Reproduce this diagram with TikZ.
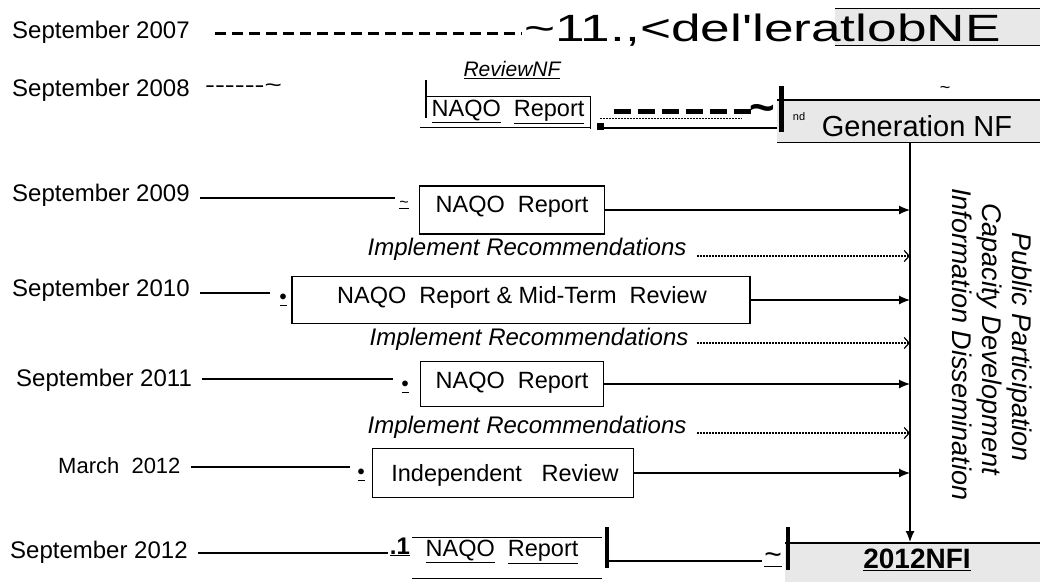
\documentclass[tikz,border=0pt]{standalone}
\usepackage{fontspec}
\setmainfont{Liberation Sans}
\usetikzlibrary{arrows.meta}
\tikzset{
  lab/.style={font=\fontsize{24}{26}\selectfont, inner sep=0pt},
  boxtxt/.style={font=\fontsize{23.5}{26}\selectfont, inner sep=0pt},
  imp/.style={font=\fontsize{24}{26}\selectfont\itshape, inner sep=0pt},
  rowbox/.style={draw, line width=1.3pt, inner sep=0pt},
  conn/.style={line width=1.2pt},
  solidarr/.style={conn, -{Latex[length=11pt,width=9pt]}},
  dotarr/.style={line width=1.2pt, dash pattern=on 1.5pt off 1.5pt, -{Straight Barb[length=5pt,width=11pt]}},
  thick bar/.style={line width=4.5pt},
  greyfill/.style={fill=gray!18, draw=none},
  rot/.style={font=\fontsize{27}{28}\selectfont\itshape, rotate=-90, anchor=base west, inner sep=0pt},
}
\begin{document}
\begin{tikzpicture}[x=1pt,y=-1pt]
\useasboundingbox (0,0) rectangle (1040,582);
\fill[white] (0,0) rectangle (1040,582);

% ---------- row 2007 ----------
\node[lab, anchor=west] (l07) at (12,32) {September 2007};
\coordinate (d07a) at (215,33);
\coordinate (d07b) at (522,33);
\draw[line width=3pt, dash pattern=on 11pt off 6pt] (d07a) -- (d07b);
\node[greyfill, minimum width=205pt, minimum height=37pt, anchor=north west] (g07) at (835,8) {};
\draw[line width=1pt] (g07.north west) -- (g07.north east);
\draw[line width=1pt] (g07.south west) -- (g07.south east);
\node[anchor=west, inner sep=0pt, font=\fontsize{38}{40}\selectfont] (t07) at (524,30)
  {\scalebox{1.40}[1]{\textasciitilde 11.,<del\textquotesingle leratlobNE}};

% ---------- row 2008 ----------
\node[lab, anchor=west] (l08) at (12,90) {September 2008};
\node[anchor=west, inner sep=0pt, font=\fontsize{22}{22}\selectfont] (d08) at (205,88) {\scalebox{1.35}[1]{-{}-{}-{}-{}-{}-\textasciitilde}};
\node[inner sep=0pt, font=\fontsize{21}{22}\selectfont\itshape] (rev) at (512,70) {\underline{ReviewNF}};
\node[inner sep=0pt, minimum width=164pt, minimum height=30pt] (b08) at (508,112) {};
\node[boxtxt] (b08t) at (b08.center) {\underline{NAQO}\ \ \underline{Report}};
\draw[line width=2.2pt] ([yshift=17pt]b08.north west) -- ([yshift=9pt]b08.south west);
\draw[line width=1.2pt] (b08.north west) -- (b08.north east) -- ([yshift=-2pt]b08.south east);
\draw[line width=1.2pt] ([xshift=-6pt]b08.south west) -- (b08.south east);
\coordinate (dd08a) at (614,111);
\coordinate (dd08b) at (752,111);
\draw[line width=5pt, dash pattern=on 17pt off 7pt] (dd08a) -- (dd08b);
\draw[line width=0.6pt, dash pattern=on 2pt off 1pt] ([xshift=-14pt]dd08a |- 0,118) -- ([xshift=-10pt]dd08b |- 0,118);
\coordinate (s08a) at (597,128);
\coordinate (s08b) at (778,128);
\draw[conn] (s08a) -- (s08b);
\fill (597,123) rectangle (604,130);
\node[greyfill, minimum width=263pt, minimum height=42pt, anchor=north west] (g08) at (777,100) {};
\draw[line width=1.2pt] (g08.north west) -- (g08.north east);
\draw[line width=1.2pt] (g08.south west) -- (g08.south east);
\node[inner sep=0pt, font=\fontsize{44}{44}\selectfont\bfseries] (til08) at (762,113) {\textasciitilde};
\draw[line width=5pt] (781,86) -- (781,132);
\node[inner sep=0pt, font=\fontsize{11}{11}\selectfont] (nd) at (799,117) {nd};
\node[inner sep=0pt, font=\fontsize{18}{18}\selectfont] (til08b) at (945,90) {\textasciitilde};
\node[inner sep=0pt, font=\fontsize{29}{30}\selectfont] (gen) at (917,126) {Generation NF};

% ---------- vertical line ----------
\coordinate (vtop) at (910,142);
\coordinate (vbot) at (910,542);
\draw[solidarr] (vtop) -- (vbot);

% ---------- row 2009 ----------
\node[lab, anchor=west] (l09) at (12,195) {September 2009};
\node[rowbox, minimum width=185pt, minimum height=48pt] (b09) at (512,210) {};
\node[boxtxt] at (512,207) {NAQO\ \ Report};
\coordinate (c09) at (395,198);
\draw[conn] ([xshift=10pt]c09 -| l09.east) -- (c09);
\node[inner sep=0pt, font=\fontsize{16}{16}\selectfont] (m09) at (404,205) {\underline{\textasciitilde}};
\draw[solidarr] (b09.east) -- (b09.east -| vtop);

% ---------- implement 1 ----------
\node[imp] (i1) at (527,249) {Implement Recommendations};
\coordinate (i1a) at (697,256);
\draw[dotarr] (i1a) -- (i1a -| vtop);

% ---------- row 2010 ----------
\node[lab, anchor=west] (l10) at (12,290) {September 2010};
\node[rowbox, minimum width=458pt, minimum height=47pt] (b10) at (521,300) {};
\node[boxtxt] at (522,297) {NAQO\ \ Report \& Mid-Term\ \ Review};
\coordinate (c10) at (270,293);
\draw[conn] ([xshift=10pt]c10 -| l10.east) -- (c10);
\node[inner sep=0pt, font=\fontsize{20}{20}\selectfont\bfseries] (m10) at (283,300) {\underline{\textbullet}};
\draw[solidarr] (b10.east) -- (b10.east -| vtop);

% ---------- implement 2 ----------
\node[imp] (i2) at (529,339) {Implement Recommendations};
\coordinate (i2a) at (697,343);
\draw[dotarr] (i2a) -- (i2a -| vtop);

% ---------- row 2011 ----------
\node[lab, anchor=west] (l11) at (16,380) {September 2011};
\node[rowbox, minimum width=183pt, minimum height=45pt] (b11) at (512,384) {};
\node[boxtxt] at (512,383) {NAQO\ \ Report};
\coordinate (c11) at (393,379);
\draw[conn] ([xshift=10pt]c11 -| l11.east) -- (c11);
\node[inner sep=0pt, font=\fontsize{20}{20}\selectfont\bfseries] (m11) at (405,387) {\underline{\textbullet}};
\draw[solidarr] (b11.east) -- (b11.east -| vtop);

% ---------- implement 3 ----------
\node[imp] (i3) at (527,427) {Implement Recommendations};
\coordinate (i3a) at (697,433);
\draw[dotarr] (i3a) -- (i3a -| vtop);

% ---------- row March 2012 ----------
\node[lab, anchor=west, font=\fontsize{22}{24}\selectfont] (l12m) at (58,466) {March\ \ 2012};
\node[rowbox, minimum width=261pt, minimum height=49pt] (b12m) at (503,473) {};
\node[boxtxt] at (505,475) {Independent\ \ \ Review};
\coordinate (c12m) at (350,467);
\draw[conn] ([xshift=10pt]c12m -| l12m.east) -- (c12m);
\node[inner sep=0pt, font=\fontsize{20}{20}\selectfont\bfseries] (m12m) at (361,475) {\underline{\textbullet}};
\draw[solidarr] (b12m.east) -- (b12m.east -| vtop);

% ---------- row September 2012 ----------
\node[lab, anchor=west] (l12s) at (10,552) {September 2012};
\node[inner sep=0pt, minimum width=190pt, minimum height=40pt] (b12s) at (507,558) {};
\node[boxtxt] at (502,552) {\underline{NAQO}\ \ \underline{Report}};
\draw[line width=1.2pt] (b12s.north west) -- (b12s.north east);
\draw[line width=1.2pt] (b12s.south west) -- (b12s.south east);
\coordinate (c12s) at (388,553);
\draw[conn] ([xshift=10pt]c12s -| l12s.east) -- (c12s);
\node[inner sep=0pt, font=\fontsize{24}{24}\selectfont\bfseries] (m12s) at (400,547) {\underline{.1}};
\draw[thick bar] (607,527) -- (607,568);
\node[greyfill, minimum width=255pt, minimum height=39pt, anchor=north west] (g12) at (785,543) {};
\draw[line width=1.2pt] (g12.north west) -- (g12.north east);
\coordinate (c12e) at (762,561);
\draw[conn] (609,561) -- (c12e);
\node[inner sep=0pt, font=\fontsize{30}{30}\selectfont] (til12) at (773,560) {\underline{\textasciitilde}};
\draw[thick bar] (788,527) -- (788,570);
\node[inner sep=0pt, font=\fontsize{28}{30}\selectfont\bfseries] (nfi) at (917,560) {\underline{2012NFI}};

% ---------- rotated side text ----------
\node[rot] (pp) at (1012,232) {Public Participation};
\node[rot] (cd) at (982,203) {Capacity Development};
\node[rot] (id) at (952,188) {Information Dissemination};
\end{tikzpicture}
\end{document}
